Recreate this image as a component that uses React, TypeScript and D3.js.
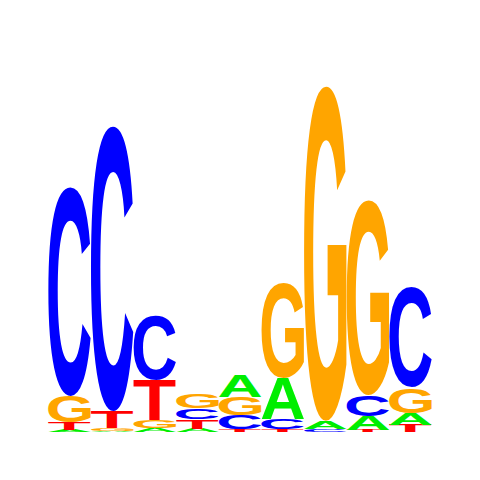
import React, { useMemo } from "react";
import * as d3 from "d3";

// information content (bits) per position
const positions = [1, 2, 3, 4, 5, 6, 7, 8, 9];
const bitsA = [0.011, 0.006, 0.023, 0.02, 0.126, 0.234, 0.046, 0.08, 0.069];
const bitsC = [1.194, 1.629, 0.366, 0.063, 0.08, 0.057, 0.017, 0.12, 0.571];
const bitsG = [0.149, 0.017, 0.046, 0.08, 0.103, 0.543, 1.914, 1.114, 0.143];
const bitsT = [0.046, 0.097, 0.229, 0.054, 0.017, 0.017, 0, 0.011, 0.04];

const bases = ["A", "C", "G", "T"];
const baseColors = ["#00ee00", "#0000ff", "#ffa500", "#ff0000"];

const width = 480;
const height = 480;
const FONT = "bold 100px 'Liberation Sans', Arial, sans-serif";

type Ink = { left: number; right: number; ascent: number; descent: number };

// fallback ink boxes (100px Arial Bold-ish)
const fallbackInk: Record<string, Ink> = {
  A: { left: 0, right: 72, ascent: 71.6, descent: 0 },
  C: { left: -4.5, right: 67, ascent: 73.5, descent: 1.3 },
  G: { left: -4.5, right: 73, ascent: 73.5, descent: 1.3 },
  T: { left: -2, right: 59, ascent: 71.6, descent: 0 },
};

function measureInk(): Record<string, Ink> {
  const out: Record<string, Ink> = { ...fallbackInk };
  try {
    const ctx = document.createElement("canvas").getContext("2d");
    if (!ctx) return out;
    ctx.font = FONT;
    bases.forEach((b) => {
      const m = ctx.measureText(b);
      if (m.actualBoundingBoxAscent > 0) {
        out[b] = {
          left: -m.actualBoundingBoxLeft,
          right: m.actualBoundingBoxRight,
          ascent: m.actualBoundingBoxAscent,
          descent: m.actualBoundingBoxDescent,
        };
      }
    });
  } catch (e) {
    // keep fallback
  }
  return out;
}

const App: React.FC = () => {
  const ink = useMemo(measureInk, []);

  const x = d3
    .scaleBand<number>()
    .domain(positions)
    .range([48.3, 431.9])
    .padding(0);
  const y = d3.scaleLinear().domain([0, 2]).range([432, 82]);

  const series = [bitsA, bitsC, bitsG, bitsT];

  const glyphs: React.ReactNode[] = [];
  positions.forEach((p, i) => {
    const stack = bases
      .map((b, k) => ({ base: b, color: baseColors[k], v: series[k][i] }))
      .filter((d) => d.v > 0)
      .sort((a, b) => a.v - b.v);
    let acc = 0;
    stack.forEach((d) => {
      const y0 = y(acc);
      const y1 = y(acc + d.v);
      acc += d.v;
      const h = y0 - y1;
      const w = x.bandwidth();
      const m = ink[d.base];
      const sx = w / (m.right - m.left);
      const sy = h / (m.ascent + m.descent);
      glyphs.push(
        <text
          key={`${p}-${d.base}`}
          transform={`translate(${x(p)},${y1}) scale(${sx},${sy}) translate(${-m.left},${m.ascent})`}
          fill={d.color}
          style={{ font: FONT }}
        >
          {d.base}
        </text>
      );
    });
  });

  return (
    <svg
      width={width}
      height={height}
      style={{ position: "absolute", left: 0, top: 0, background: "white" }}
    >
      <g>{glyphs}</g>
    </svg>
  );
};

export default App;
